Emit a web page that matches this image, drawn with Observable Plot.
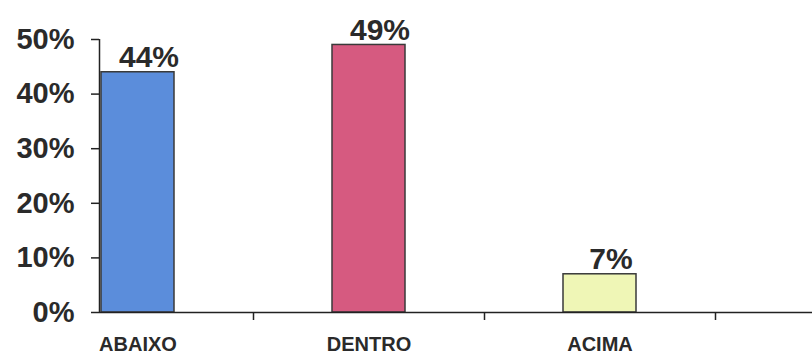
<!DOCTYPE html>
<html>
<head>
<meta charset="utf-8">
<script src="https://cdn.jsdelivr.net/npm/d3@7"></script>
<script src="https://cdn.jsdelivr.net/npm/@observablehq/plot@0.6"></script>
<style>
  html, body { margin: 0; padding: 0; background: #fff; }
  svg { display: block; }
</style>
</head>
<body>
<div id="chart"></div>
<script>
const categories = ["ABAIXO", "DENTRO", "ACIMA"];
const values = [0.44, 0.49, 0.07];
const valueLabels = ["44%", "49%", "7%"];
const colors = ["#5b8ddb", "#d65a80", "#eff6b6"];
const yTicks = [0, 0.1, 0.2, 0.3, 0.4, 0.5];

const data = categories.map((c, i) => ({cat: c, value: values[i], label: valueLabels[i], color: colors[i]}));

const font = "'Liberation Sans', Arial, sans-serif";
const ink = "#2a2a2a";
const step = 231;
const bandwidth = 73;

const chart = Plot.plot({
  width: 812,
  height: 355,
  marginLeft: 99,
  marginRight: 0,
  marginTop: 39,
  marginBottom: 43,
  style: {fontFamily: font, color: ink, background: "#fff"},
  x: {domain: categories, range: [101, 636], paddingInner: 0.684, paddingOuter: 0, align: 0, axis: null, label: null},
  y: {domain: [0, 0.5], axis: null, label: null},
  marks: [
    Plot.barY(data, {x: "cat", y: "value", fill: "color", stroke: "#3a3a3a", strokeWidth: 1.5}),
    Plot.ruleY([0], {stroke: "#222", strokeWidth: 1.5}),
    Plot.ruleX([categories[0]], {y1: 0, y2: 0.5, dx: -(bandwidth / 2 + 2), stroke: "#222", strokeWidth: 1.5}),
    Plot.axisY({ticks: yTicks, tickFormat: d3.format(".0%"), tickSize: 8, tickPadding: 17, label: null,
      fontSize: 29, fontWeight: "bold", stroke: "#222", strokeWidth: 1.5, fill: ink}),
    Plot.axisX({tickSize: 0, tickPadding: 24, fontSize: 20, fontWeight: "bold", fill: ink, label: null}),
    Plot.axisX({text: null, tickSize: 8, dx: step / 2, stroke: "#222", strokeWidth: 1.5, label: null}),
    Plot.text(data, {x: "cat", y: "value", text: "label", lineAnchor: "bottom", dy: -5, dx: 11,
      fontSize: 30, fontWeight: "bold", fill: ink})
  ]
});
document.getElementById("chart").appendChild(chart);
</script>
</body>
</html>
